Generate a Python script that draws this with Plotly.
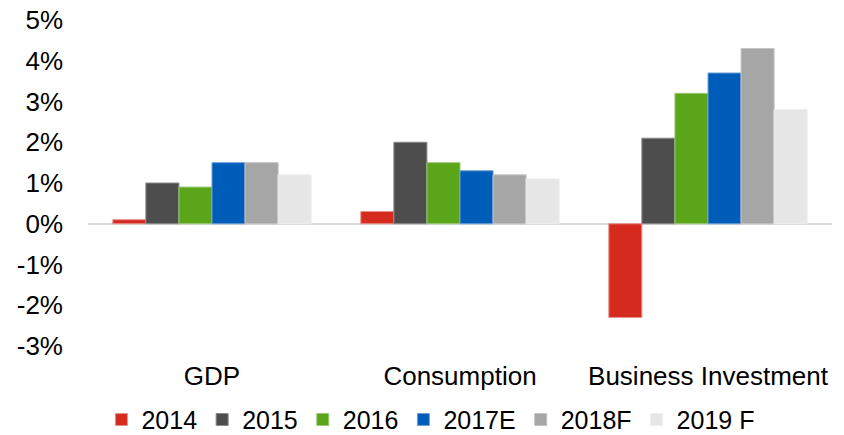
import plotly.graph_objects as go

categories = ["GDP", "Consumption", "Business Investment"]
series_names = ["2014", "2015", "2016", "2017E", "2018F", "2019 F"]
values_2014 = [0.1, 0.3, -2.3]
values_2015 = [1.0, 2.0, 2.1]
values_2016 = [0.9, 1.5, 3.2]
values_2017 = [1.5, 1.3, 3.7]
values_2018 = [1.5, 1.2, 4.3]
values_2019 = [1.2, 1.1, 2.8]
tick_vals = [-3, -2, -1, 0, 1, 2, 3, 4, 5]
tick_text = ["-3%", "-2%", "-1%", "0%", "1%", "2%", "3%", "4%", "5%"]

series_values = [values_2014, values_2015, values_2016, values_2017, values_2018, values_2019]
colors = ["#D52B1E", "#4D4D4D", "#5AA51A", "#005CB9", "#A6A6A6", "#E6E6E6"]
outlines = ["#E8928B", "#8A8A8A", "#9CC978", "#6E9FD8", "#C4C4C4", "#EEEEEE"]

fig = go.Figure()
for name, vals, c, oc in zip(series_names, series_values, colors, outlines):
    fig.add_trace(go.Bar(
        x=categories, y=vals, name=name,
        marker=dict(color=c, line=dict(color=oc, width=1)),
    ))

font = "Liberation Sans, Arial, sans-serif"
fig.update_layout(
    width=844, height=435,
    barmode="group", bargap=0.2, bargroupgap=0,
    plot_bgcolor="white", paper_bgcolor="white",
    margin=dict(l=88, r=12, t=20, b=89),
    font=dict(family=font, size=26, color="#000000"),
    showlegend=True,
    legend=dict(orientation="h", xref="container", x=0.51, xanchor="center",
                yref="container", y=0.035, yanchor="middle",
                font=dict(size=25), itemclick=False, traceorder="normal"),
)
fig.update_yaxes(
    range=[-3, 5], tickvals=tick_vals, ticktext=tick_text,
    showgrid=False, zeroline=True, zerolinecolor="#D9D9D9", zerolinewidth=2,
    showline=False, ticks="", ticklabelstandoff=24, automargin=False,
    ticklabeloverflow="allow",
)
fig.update_xaxes(showgrid=False, showline=False, ticks="", ticklabelstandoff=12,
                 automargin=False, ticklabeloverflow="allow")

# remove the default 8px page margin so the figure fills the window exactly
fig.write_html("out.html", config={"displayModeBar": False},
               post_script="document.body.style.margin='0';")
